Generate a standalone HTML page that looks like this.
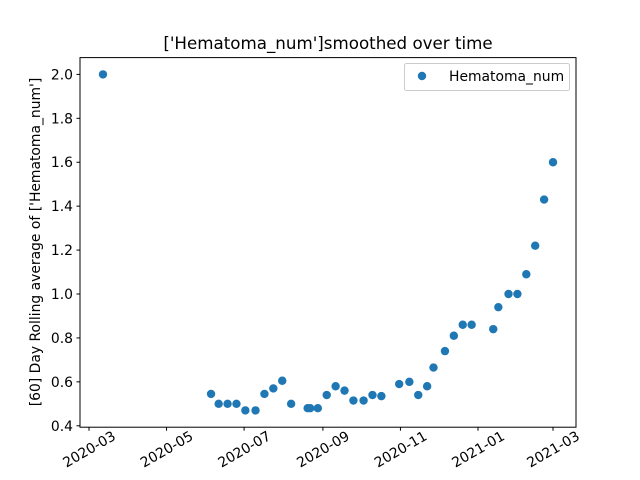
<!DOCTYPE html>
<html><head><meta charset="utf-8"><style>
body{margin:0;background:#fff}
svg{display:block;font-family:"DejaVu Sans","Liberation Sans",sans-serif}
</style></head><body>
<svg id="chart" width="640" height="480" xmlns="http://www.w3.org/2000/svg">
<rect width="640" height="480" fill="#fff"/>
<text x="328" y="49" text-anchor="middle" font-size="16.7">['Hematoma_num']smoothed over time</text>
<g id="yaxis"></g>
<g id="xaxis"></g>
<g id="points"></g>
<rect x="80" y="57.6" width="496" height="369.6" fill="none" stroke="#000" stroke-width="1"/>
<text transform="translate(40,242) rotate(-90)" text-anchor="middle" font-size="13.9">[60] Day Rolling average of ['Hematoma_num']</text>
<g>
<rect x="404.5" y="63.5" width="165" height="27" rx="2" fill="#fff" stroke="#ccc"/>
<circle cx="422" cy="76" r="4.2" fill="#1f77b4"/>
<text x="449" y="81" font-size="13.9">Hematoma_num</text>
</g>
</svg>
<script>
const dates = ["2020-03-12","2020-06-05","2020-06-11","2020-06-18","2020-06-25","2020-07-02","2020-07-10","2020-07-17","2020-07-24","2020-07-31","2020-08-07","2020-08-20","2020-08-22","2020-08-28","2020-09-04","2020-09-11","2020-09-18","2020-09-25","2020-10-03","2020-10-10","2020-10-17","2020-10-31","2020-11-08","2020-11-15","2020-11-22","2020-11-27","2020-12-06","2020-12-13","2020-12-20","2020-12-27","2021-01-13","2021-01-17","2021-01-25","2021-02-01","2021-02-08","2021-02-15","2021-02-22","2021-03-01"];
const values = [2.0,0.545,0.50,0.50,0.50,0.47,0.47,0.545,0.57,0.605,0.50,0.48,0.48,0.48,0.54,0.58,0.56,0.515,0.515,0.54,0.535,0.59,0.60,0.54,0.58,0.665,0.74,0.81,0.86,0.86,0.84,0.94,1.0,1.0,1.09,1.22,1.43,1.60];
const yTicks = [0.4,0.6,0.8,1.0,1.2,1.4,1.6,1.8,2.0];
const xTickLabels = ["2020-03","2020-05","2020-07","2020-09","2020-11","2021-01","2021-03"];
const NS="http://www.w3.org/2000/svg";
const t0=Date.UTC(2020,2,1), t1=Date.UTC(2021,2,1);
function ms(s){const p=s.split("-").map(Number);return Date.UTC(p[0],p[1]-1,p[2]||1);}
function xs(s){return 89+(ms(s)-t0)/(t1-t0)*464;}
const y0=0.3935,y1=2.0765;
function ys(v){return 427.2-(v-y0)/(y1-y0)*369.6;}
function mk(tag,attrs,parent){const e=document.createElementNS(NS,tag);for(const k in attrs)e.setAttribute(k,attrs[k]);parent.appendChild(e);return e;}
const ya=document.getElementById("yaxis"), xa=document.getElementById("xaxis"), pg=document.getElementById("points");
yTicks.forEach(v=>{
  const y=ys(v);
  const l=mk("line",{x1:76.5,x2:80,y1:y,y2:y,stroke:"#000"},ya);
  
  
  const t=mk("text",{x:73,y:y+5,"text-anchor":"end","font-size":"13.9"},ya);
  
  
  t.textContent=v.toFixed(1);
});
xTickLabels.forEach(s=>{
  const x=xs(s);
  const l=mk("line",{x1:x,x2:x,y1:427.2,y2:430.7,stroke:"#000"},xa);
  
  
  const t=mk("text",{x:0,y:5,"text-anchor":"middle","font-size":"13.9",transform:`translate(${x},${449}) rotate(-30)`},xa);
  
  
  t.textContent=s;
});
dates.forEach((d,i)=>{
  const c=mk("circle",{cx:xs(d),cy:ys(values[i]),r:4.2,fill:"#1f77b4"},pg);
  
  
});
</script>
</body></html>
